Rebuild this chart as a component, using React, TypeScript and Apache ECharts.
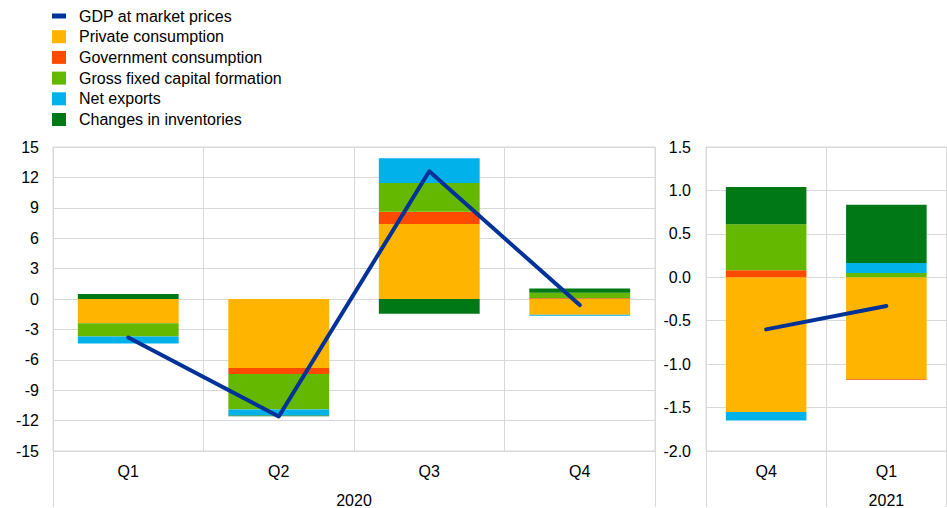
import React, { useEffect, useRef } from "react";
import * as echarts from "echarts";

const quarters2020 = ["Q1", "Q2", "Q3", "Q4"];
const quartersRight = ["Q4", "Q1"];
const yearsLeft = ["2020"];
const yearsRight = ["", "2021"];

const gdpL = [-3.8, -11.6, 12.6, -0.6];
const privL = [-2.4, -6.8, 7.4, -1.55];
const govL = [0, -0.6, 1.2, 0.08];
const gfcfL = [-1.3, -3.5, 2.85, 0.53];
const netL = [-0.7, -0.6, 2.45, -0.1];
const invL = [0.5, -0.07, -1.45, 0.43];

const gdpR = [-0.6, -0.33];
const privR = [-1.55, -1.17];
const govR = [0.08, -0.01];
const gfcfR = [0.53, 0.05];
const netR = [-0.1, 0.115];
const invR = [0.43, 0.67];

const names = [
  "GDP at market prices",
  "Private consumption",
  "Government consumption",
  "Gross fixed capital formation",
  "Net exports",
  "Changes in inventories",
];
const colors = ["#003299", "#FFB400", "#FF4B00", "#65B800", "#00B1EA", "#007816"];

const FONT = "'Liberation Sans', Arial, sans-serif";
const GRID_C = "#d9d9d9";
const FS = 16;

export default function App() {
  const ref = useRef<HTMLDivElement>(null);
  useEffect(() => {
    if (!ref.current) return;
    const chart = echarts.init(ref.current, undefined, { renderer: "svg" });
    const mkBars = (sets: number[][], xi: number, stack: string) =>
      sets.map((d, i) => ({
        name: names[i + 1],
        type: "bar",
        stack,
        xAxisIndex: xi,
        yAxisIndex: xi === 0 ? 0 : 1,
        data: d,
        barCategoryGap: "33%",
        itemStyle: { color: colors[i + 1] },
      }));
    const mkLine = (d: number[], xi: number) => ({
      name: names[0],
      type: "line",
      xAxisIndex: xi,
      yAxisIndex: xi === 0 ? 0 : 1,
      data: d,
      symbol: "none",
      z: 5,
      lineStyle: { color: colors[0], width: 4, cap: "round", join: "round" },
      itemStyle: { color: colors[0] },
    });
    const qAxis = (gridIndex: number, data: string[]) => ({
      type: "category",
      gridIndex,
      data,
      position: "bottom",
      boundaryGap: true,
      axisLine: { show: false },
      axisTick: { show: false },
      axisLabel: { margin: 12, fontSize: FS, color: "#000", fontFamily: FONT },
      splitLine: { show: true, interval: 0, lineStyle: { color: GRID_C, width: 1 } },
    });
    const yrAxis = (gridIndex: number, data: string[]) => ({
      type: "category",
      gridIndex,
      data,
      position: "bottom",
      boundaryGap: true,
      axisLine: { show: false },
      axisTick: { show: true, interval: 0, length: 56, lineStyle: { color: GRID_C, width: 1 } },
      axisLabel: { margin: 41, fontSize: FS, color: "#000", fontFamily: FONT },
      splitLine: { show: false },
    });
    chart.setOption({
      animation: false,
      legend: {
        orient: "vertical",
        left: 47,
        top: 3,
        itemWidth: 14,
        itemHeight: 13,
        itemGap: 4.7,
        textStyle: { fontSize: FS, color: "#000", fontFamily: FONT, lineHeight: 13, padding: [0, 0, 0, 8] },
        data: names.map((n, i) =>
          i === 0
            ? { name: n, icon: "path://M0,0L14,0L14,5L0,5Z" }
            : { name: n, icon: "rect" }
        ),
      },
      grid: [
        { left: 53, top: 147, width: 602, height: 305, show: true, borderColor: GRID_C, borderWidth: 1 },
        { left: 706, top: 147, width: 240.5, height: 305, show: true, borderColor: GRID_C, borderWidth: 1 },
      ],
      xAxis: [
        qAxis(0, quarters2020),
        qAxis(1, quartersRight),
        yrAxis(0, yearsLeft),
        yrAxis(1, yearsRight),
      ],
      yAxis: [
        {
          type: "value",
          gridIndex: 0,
          min: -15,
          max: 15,
          interval: 3,
          axisLine: { show: false },
          axisTick: { show: false },
          axisLabel: { margin: 14, fontSize: FS, color: "#000", fontFamily: FONT },
          splitLine: { lineStyle: { color: GRID_C, width: 1 } },
        },
        {
          type: "value",
          gridIndex: 1,
          min: -2,
          max: 1.5,
          interval: 0.5,
          axisLine: { show: false },
          axisTick: { show: false },
          axisLabel: {
            margin: 15,
            fontSize: FS,
            color: "#000",
            fontFamily: FONT,
            formatter: (v: number) => v.toFixed(1),
          },
          splitLine: { lineStyle: { color: GRID_C, width: 1 } },
        },
      ],
      series: [
        mkLine(gdpL, 0),
        ...mkBars([privL, govL, gfcfL, netL, invL], 0, "left"),
        mkLine(gdpR, 1),
        ...mkBars([privR, govR, gfcfR, netR, invR], 1, "right"),
      ],
    });
    return () => chart.dispose();
  }, []);
  return (
    <div style={{ position: "fixed", left: 0, top: 0, width: 947, height: 508, background: "#fff" }}>
      <div ref={ref} style={{ width: 947, height: 508 }} />
    </div>
  );
}
